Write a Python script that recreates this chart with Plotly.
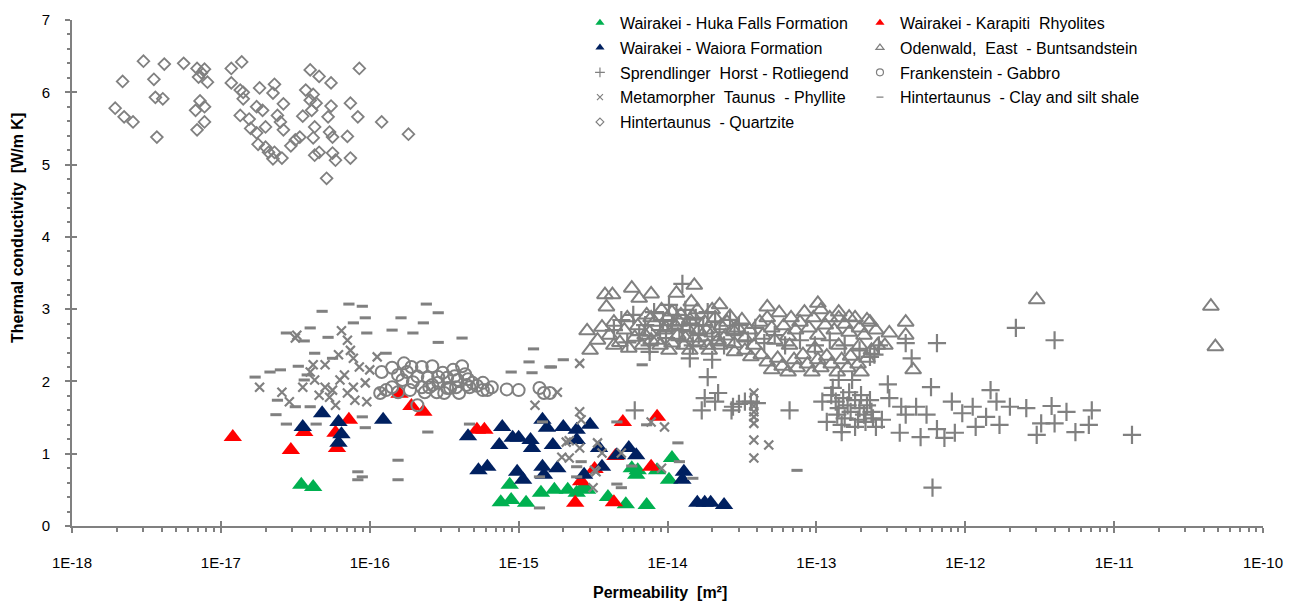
import numpy as np
import plotly.graph_objects as go

# ---------------- data (log10 permeability [m2], thermal conductivity [W/m K]) ----------------
huka_logk = [-16.46, -16.38, -15.12, -15.05, -14.95, -15.06, -14.85, -14.76, -14.67, -14.61, -14.54,
             -14.40, -14.28, -14.14, -14.24, -14.20, -14.21, -13.97, -13.99, -14.57, -14.07]
huka_tc = [0.57, 0.54, 0.33, 0.36, 0.32, 0.57, 0.46, 0.50, 0.50, 0.46, 0.50,
           0.40, 0.30, 0.29, 0.80, 0.77, 0.71, 0.94, 0.64, 0.53, 0.77]

karapiti_logk = [-16.92, -16.53, -16.44, -16.23, -16.22, -16.14, -15.80, -15.72, -15.64, -15.28,
                 -15.23, -14.62, -14.58, -14.49, -14.35, -14.36, -14.30, -14.11, -14.07]
karapiti_tc = [1.23, 1.05, 1.30, 1.29, 1.08, 1.47, 1.83, 1.66, 1.58, 1.33,
               1.33, 0.32, 0.62, 0.79, 0.97, 0.33, 1.44, 0.82, 1.51]

waiora_logk = [-16.45, -16.32, -16.21, -16.19, -16.21, -15.91, -15.34, -15.27, -15.21, -15.13,
               -15.11, -15.04, -15.00, -15.01, -14.97, -14.92, -14.91, -14.84, -14.81, -14.84,
               -14.83, -14.77, -14.74, -14.70, -14.61, -14.61, -14.52, -14.56, -14.46, -14.44,
               -14.34, -14.26, -14.21, -13.89, -13.90, -13.80, -13.75, -13.71, -13.62]
waiora_tc = [1.37, 1.56, 1.44, 1.27, 1.15, 1.47, 1.24, 0.77, 0.82, 1.12,
             1.37, 1.22, 1.22, 0.75, 0.64, 1.19, 1.08, 1.47, 1.36, 0.82,
             0.71, 1.12, 0.80, 1.37, 1.33, 1.19, 1.40, 0.71, 1.08, 0.82,
             0.98, 1.08, 0.98, 0.75, 0.64, 0.32, 0.32, 0.32, 0.29]

odenwald_logk = [
    -14.47, -14.44, -14.39, -14.36, -14.32, -14.29, -14.27, -14.22, -14.20, -14.17,
    -14.14, -14.12, -14.09, -14.07, -14.04, -14.02, -14.00, -13.97, -13.95, -13.93,
    -13.91, -13.89, -13.87, -13.85, -13.82, -13.80, -13.79, -13.75, -13.73, -13.70,
    -13.68, -13.66, -13.64, -13.61, -13.58, -13.55, -13.53, -13.50, -13.48, -13.45,
    -13.42, -13.38, -13.36, -13.33, -13.30, -13.28, -13.25, -13.22, -13.19, -13.17,
    -13.14, -13.11, -13.08, -13.05, -13.02, -12.99, -12.97, -12.94, -12.91, -12.88,
    -12.85, -12.81, -12.78, -12.74, -12.71, -12.68, -12.64, -12.60,
    -13.37, -13.33, -13.30, -13.26, -13.23, -13.19, -13.15, -13.13, -13.09, -13.06,
    -13.03, -12.99, -12.97, -12.93, -12.90, -12.86, -12.83, -12.79, -12.77, -12.72,
    -12.70, -12.66, -12.63, -12.59, -13.48, -13.44, -13.55, -13.18, -13.01, -12.85, -12.71,
    -14.54, -14.52, -14.42, -14.37, -14.41, -14.24, -14.19, -14.11, -13.94, -13.82,
    -13.84, -13.65, -13.33, -12.99, -12.40, -12.40, -12.51, -12.54, -12.35, -12.66,
    -12.78, -12.85, -11.52, -10.35, -10.32,
    -14.15, -14.11, -14.05, -14.01, -13.97, -13.92, -13.88, -13.83, -13.79, -13.74,
    -13.70, -13.65, -13.60, -13.56, -14.11, -13.99, -13.85, -13.72, -14.26, -14.36]
odenwald_tc = [
    2.57, 2.75, 2.64, 2.82, 2.54, 2.71, 2.88, 2.61, 2.77, 2.50,
    2.92, 2.68, 2.82, 2.57, 2.99, 2.71, 2.88, 2.53, 2.78, 2.64,
    2.92, 2.50, 2.74, 2.85, 2.60, 2.99, 2.71, 2.82, 2.50, 2.67,
    2.88, 2.57, 2.77, 2.63, 2.90, 2.52, 2.74, 2.85, 2.60, 2.71,
    2.50, 2.82, 2.64, 2.88, 2.74, 2.57, 2.95, 2.77, 2.63, 2.88,
    2.71, 2.82, 2.96, 2.74, 2.88, 2.64, 2.99, 2.78, 2.88, 2.71,
    2.96, 2.79, 2.68, 2.88, 2.74, 2.64, 2.82, 2.71,
    2.37, 2.27, 2.16, 2.32, 2.21, 2.13, 2.30, 2.19, 2.37, 2.24,
    2.13, 2.30, 2.19, 2.35, 2.24, 2.13, 2.30, 2.19, 2.35, 2.24,
    2.13, 2.32, 2.43, 2.50, 2.43, 2.34, 2.41, 2.50, 2.46, 2.50, 2.50,
    2.70, 2.43, 3.20, 3.20, 3.03, 3.29, 3.15, 3.21, 3.22, 3.33,
    3.10, 3.06, 3.03, 3.08, 2.82, 2.64, 2.67, 2.50, 2.16, 2.85,
    2.89, 2.88, 3.13, 3.04, 2.48,
    2.64, 2.88, 2.50, 2.74, 2.96, 2.82, 2.60, 2.90, 2.53, 2.71,
    2.99, 2.50, 2.82, 2.71, 2.57, 2.43, 2.43, 2.43, 2.46, 2.50]

sprend_logk = [
    -11.66, -11.40, -12.19, -12.36, -12.40, -12.23, -12.52, -12.76, -12.85, -10.88,
    -11.15, -11.17, -11.26, -11.52, -11.42, -11.32, -11.40, -11.49, -11.59, -11.70,
    -11.83, -11.79, -11.77, -11.86, -11.95, -12.02, -12.09, -11.93, -12.07, -12.14,
    -12.19, -12.26, -12.30, -12.33, -12.43, -12.44, -12.40, -12.51, -12.56, -12.60,
    -12.64, -12.83, -12.93, -12.74,
    -12.90, -12.87, -12.85, -12.82, -12.79, -12.77, -12.74, -12.71, -12.68, -12.66,
    -12.63, -12.86, -12.81, -12.72, -12.89, -12.78, -12.70, -12.83, -12.67, -12.62,
    -12.22, -13.18, -13.44, -13.52, -13.57, -13.66, -13.73, -13.75, -13.77, -13.68,
    -14.22, -12.64, -12.96, -13.56, -13.48, -13.40, -13.90, -13.70, -13.85, -14.12,
    -14.36, -14.31, -14.27, -14.23, -14.19, -14.15, -14.12, -14.09, -14.05, -14.03,
    -14.01, -13.99, -13.97, -13.94, -13.92, -13.90, -13.88, -13.85, -13.83, -13.81,
    -13.79, -13.76, -13.73, -13.70, -13.68, -13.65, -13.62, -13.58, -13.55, -13.52,
    -13.46, -13.41, -13.35, -13.28, -13.21, -13.11, -13.01, -12.91, -12.81, -12.71,
    -12.61, -12.58]
sprend_tc = [
    2.74, 2.57, 2.53, 2.32, 2.53, 1.92, 1.96, 2.02, 2.02, 1.26,
    1.60, 1.40, 1.30, 1.26, 1.66, 1.58, 1.42, 1.42, 1.63, 1.65,
    1.88, 1.72, 1.40, 1.51, 1.65, 1.56, 1.72, 1.37, 1.29, 1.22,
    1.34, 1.54, 1.23, 1.65, 1.65, 1.29, 1.54, 1.77, 1.47, 1.37,
    1.74, 1.30, 1.44, 1.37,
    1.81, 1.72, 1.63, 1.77, 1.67, 1.58, 1.74, 1.63, 1.54, 1.67,
    1.58, 1.54, 1.49, 1.47, 1.91, 1.85, 1.81, 1.40, 1.44, 1.49,
    0.53, 1.60, 1.72, 1.69, 1.60, 1.84, 2.06, 1.77, 1.60, 1.72,
    1.60, 2.34, 1.72, 1.65, 1.72, 1.70, 3.35, 2.30, 2.32, 2.41,
    2.71, 2.85, 2.54, 2.92, 2.64, 2.78, 2.50, 2.96, 2.71, 2.85,
    2.60, 3.06, 2.78, 2.92, 2.57, 2.71, 2.99, 2.78, 2.50, 2.88,
    2.64, 2.78, 2.96, 2.57, 2.82, 2.68, 2.50, 2.85, 2.64, 2.78,
    2.57, 2.74, 2.53, 2.64, 2.50, 2.57, 2.50, 2.57, 2.50, 2.43,
    2.37, 2.50]

franken_logk = [
    -15.92, -15.85, -15.77, -15.72, -15.65, -15.58, -15.51, -15.44, -15.38, -15.85,
    -15.78, -15.71, -15.65, -15.60, -15.54, -15.48, -15.42, -15.35, -15.31, -15.24,
    -15.24, -15.18, -15.08, -15.00, -14.86, -14.83, -15.68, -15.40, -15.55, -15.93,
    -15.89, -15.58, -15.46, -15.33, -14.79,
    -15.81, -15.75, -15.68, -15.61, -15.54, -15.48, -15.41, -15.34, -15.28, -15.21,
    -15.81, -15.73, -15.63, -15.50, -15.43, -15.36]
franken_tc = [
    2.13, 2.19, 2.25, 2.20, 2.20, 2.21, 2.12, 2.16, 2.21, 1.92,
    2.02, 1.99, 1.92, 1.92, 1.98, 1.91, 1.92, 1.95, 1.98, 1.98,
    1.88, 1.92, 1.89, 1.88, 1.91, 1.84, 1.67, 1.84, 1.85, 1.84,
    1.88, 1.95, 1.91, 1.92, 1.84,
    2.09, 2.13, 2.07, 2.05, 2.06, 2.05, 2.02, 2.03, 1.94, 1.88,
    1.85, 1.88, 1.85, 1.84, 2.07, 2.10]

phyllite_logk = [
    -16.74, -16.59, -16.49, -16.50, -16.38, -16.37, -16.45, -16.19, -16.15, -16.13,
    -16.21, -16.11, -16.07, -15.95, -16.30, -16.25, -16.20, -16.27, -16.23, -16.15,
    -16.11, -16.03, -16.02, -15.92, -16.34, -16.17, -16.40, -16.10, -16.54, -16.00, -16.30,
    -14.59, -14.89, -14.74, -14.59, -14.58, -14.68, -14.71, -14.59, -14.47, -14.44,
    -14.31, -14.50, -14.48, -14.66, -14.66, -14.49, -14.11, -14.02, -14.04,
    -13.42, -13.42, -13.42, -13.42, -13.42, -13.42, -13.42, -13.32]
phyllite_tc = [
    1.92, 1.85, 2.64, 2.60, 2.23, 2.02, 1.92, 2.70, 2.57, 2.43,
    2.37, 2.32, 2.20, 2.34, 1.92, 1.88, 2.02, 1.78, 1.67, 1.84,
    1.92, 1.98, 1.72, 1.85, 1.81, 2.09, 2.13, 1.74, 1.72, 2.16, 2.23,
    2.25, 1.67, 1.85, 1.58, 1.47, 1.16, 0.95, 1.08, 1.15, 1.01,
    1.01, 0.53, 0.75, 1.18, 0.94, 0.77, 1.44, 1.37, 0.80,
    1.84, 1.66, 1.58, 1.51, 1.42, 1.19, 0.94, 1.12]

shale_logk = [
    -16.14, -16.05, -16.32, -16.11, -16.03, -16.40, -16.28, -16.56, -16.44, -16.02,
    -16.37, -16.25, -16.48, -16.67, -16.60, -16.77, -16.42, -16.44, -16.62, -16.50,
    -16.40, -16.63, -16.56, -16.36, -16.05, -16.03, -15.85, -15.79, -15.71, -15.64,
    -15.62, -15.54, -15.89, -15.61, -15.81, -16.08, -16.05, -15.54, -15.38, -14.90,
    -14.93, -14.70, -14.79, -15.05, -14.91, -15.81, -16.08, -15.33, -14.86, -14.34,
    -14.31, -14.34, -14.84, -14.61, -14.61, -14.14, -13.93, -13.92, -13.83, -14.58,
    -14.86, -14.24, -14.17, -13.13, -14.78]
shale_tc = [
    3.07, 3.04, 2.97, 2.81, 2.88, 2.74, 2.61, 2.67, 2.56, 2.67,
    2.39, 2.32, 2.21, 2.13, 2.16, 2.06, 2.09, 2.02, 1.74, 1.65,
    1.65, 1.54, 1.41, 1.41, 1.51, 1.36, 2.71, 2.88, 2.67, 2.81,
    3.07, 2.95, 2.39, 1.30, 0.91, 0.75, 0.68, 2.54, 2.60, 2.45,
    2.27, 2.30, 2.20, 2.13, 2.12, 0.64, 0.64, 1.41, 0.25, 0.58,
    0.53, 1.44, 1.44, 0.82, 0.68, 1.40, 1.15, 0.89, 0.66, 0.89,
    0.68, 0.83, 2.23, 0.77, 2.20]

quartzite_logk = [
    -17.52, -17.66, -17.71, -17.65, -17.59, -17.45, -17.38, -17.44, -17.39, -17.43,
    -17.25, -17.16, -17.11, -17.15, -17.13, -17.09, -17.14, -17.17, -17.11, -17.11,
    -17.16, -16.93, -16.86, -16.93, -16.87, -16.85, -16.85, -16.87, -16.81, -16.80,
    -16.76, -16.74, -16.72, -16.70, -16.76, -16.75, -16.70, -16.68, -16.65, -16.65,
    -16.64, -16.62, -16.60, -16.58, -16.64, -16.59, -16.58, -16.53, -16.50, -16.47,
    -16.45, -16.40, -16.34, -16.43, -16.40, -16.38, -16.39, -16.36, -16.37, -16.38,
    -16.37, -16.34, -16.29, -16.28, -16.26, -16.26, -16.27, -16.25, -16.25, -16.23,
    -16.15, -16.13, -16.13, -16.08, -16.07, -15.92, -15.74]
quartzite_tc = [
    6.43, 6.15, 5.78, 5.66, 5.59, 6.18, 6.39, 5.93, 5.91, 5.38,
    6.40, 6.33, 6.32, 6.21, 6.27, 6.14, 5.88, 5.75, 5.80, 5.59,
    5.48, 6.33, 6.42, 6.13, 6.03, 6.00, 5.91, 5.68, 5.63, 5.50,
    5.80, 6.06, 5.75, 5.52, 5.44, 5.28, 5.24, 5.17, 5.08, 5.99,
    6.11, 5.68, 5.59, 5.48, 5.17, 5.09, 5.84, 5.26, 5.34, 5.38,
    5.67, 6.31, 6.22, 6.03, 5.89, 5.97, 5.75, 5.85, 5.52, 5.37,
    5.13, 5.17, 4.81, 5.66, 6.13, 5.81, 5.45, 5.38, 5.16, 5.06,
    5.39, 5.85, 5.09, 5.66, 6.33, 5.59, 5.42]

decade_exponents = [-18, -17, -16, -15, -14, -13, -12, -11, -10]
x_tick_labels = ["1E-18", "1E-17", "1E-16", "1E-15", "1E-14", "1E-13", "1E-12", "1E-11", "1E-10"]
y_tick_values = [0, 1, 2, 3, 4, 5, 6, 7]

series_names = {
    "huka": "Wairakei - Huka Falls Formation",
    "karapiti": "Wairakei - Karapiti\u00a0 Rhyolites",
    "waiora": "Wairakei - Waiora Formation",
    "odenwald": "Odenwald,\u00a0 East\u00a0 - Buntsandstein",
    "sprend": "Sprendlinger\u00a0 Horst - Rotliegend",
    "franken": "Frankenstein - Gabbro",
    "phyllite": "Metamorpher\u00a0 Taunus\u00a0 - Phyllite",
    "shale": "Hintertaunus\u00a0 - Clay and silt shale",
    "quartzite": "Hintertaunus\u00a0 - Quartzite",
}

# ---------------- styles ----------------
GREY = "#808080"
GREEN = "#00B050"
RED = "#FF0000"
NAVY = "#002060"
FONT = "Liberation Sans, Arial, sans-serif"

styles = {
    "huka": dict(symbol="triangle-up", size=16, color=GREEN, lw=0, lsize=8),
    "karapiti": dict(symbol="triangle-up", size=16, color=RED, lw=0, lsize=8),
    "waiora": dict(symbol="triangle-up", size=16, color=NAVY, lw=0, lsize=8),
    "odenwald": dict(symbol="triangle-up-open", size=14, color=GREY, lw=2, lsize=7),
    "sprend": dict(symbol="cross-thin", size=13, color=GREY, lw=2.2, lsize=7),
    "franken": dict(symbol="circle-open", size=12, color=GREY, lw=2, lsize=7),
    "phyllite": dict(symbol="x-thin", size=9, color=GREY, lw=2.2, lsize=6),
    "shale": dict(symbol="line-ew", size=8, color=GREY, lw=3, lsize=5),
    "quartzite": dict(symbol="diamond-open", size=9, color=GREY, lw=1.8, lsize=6),
}

data = {
    "huka": (huka_logk, huka_tc),
    "karapiti": (karapiti_logk, karapiti_tc),
    "waiora": (waiora_logk, waiora_tc),
    "odenwald": (odenwald_logk, odenwald_tc),
    "sprend": (sprend_logk, sprend_tc),
    "franken": (franken_logk, franken_tc),
    "phyllite": (phyllite_logk, phyllite_tc),
    "shale": (shale_logk, shale_tc),
    "quartzite": (quartzite_logk, quartzite_tc),
}

fig = go.Figure()

# drawing order (bottom to top)
draw_order = ["huka", "karapiti", "waiora", "quartzite", "odenwald", "sprend", "franken", "phyllite", "shale"]
for key in draw_order:
    lk, tc = data[key]
    st = styles[key]
    fig.add_trace(go.Scatter(
        x=10.0 ** np.array(lk), y=tc, mode="markers", showlegend=False, hoverinfo="skip",
        marker=dict(symbol=st["symbol"], size=st["size"], color=st["color"],
                    line=dict(width=st["lw"], color=st["color"]))))

# empty trace so the overlay axes (inner halves of major ticks) get drawn
fig.add_trace(go.Scatter(x=[None], y=[None], xaxis="x2", yaxis="y2", mode="markers",
                         showlegend=False, hoverinfo="skip"))

# legend entries (two columns)
legend_cols = {
    "legend": ["huka", "waiora", "sprend", "phyllite", "quartzite"],
    "legend2": ["karapiti", "odenwald", "franken", "shale"],
}
for leg, keys in legend_cols.items():
    for key in keys:
        st = styles[key]
        fig.add_trace(go.Scatter(
            x=[None], y=[None], mode="markers", name=series_names[key], legend=leg,
            legendgroup=key, showlegend=True,
            marker=dict(symbol=st["symbol"], size=st["lsize"], color=st["color"],
                        line=dict(width=(1.2 if st["lw"] else 0), color=st["color"]))))

major_vals = [10.0 ** e for e in decade_exponents]
minor_vals = [m * 10.0 ** e for e in decade_exponents[:-1] for m in range(2, 10)]

fig.update_layout(
    width=1295, height=602,
    margin=dict(l=72, r=32, t=20, b=76, autoexpand=False),
    paper_bgcolor="white", plot_bgcolor="white",
    font=dict(family=FONT, size=15, color="black"),
    xaxis=dict(
        type="log", range=[-18, -10], showgrid=False, zeroline=False,
        showline=True, linecolor=GREY, linewidth=2,
        tickmode="array", tickvals=major_vals, ticktext=x_tick_labels,
        ticks="outside", ticklen=5, tickwidth=2, tickcolor=GREY,
        tickfont=dict(family=FONT, size=15, color="black"), ticklabelstandoff=17,
        minor=dict(tickmode="array", tickvals=minor_vals, ticks="outside", ticklen=4,
                   tickwidth=1.5, tickcolor=GREY, showgrid=False),
    ),
    yaxis=dict(
        range=[0, 7], showgrid=False, zeroline=False,
        showline=True, linecolor=GREY, linewidth=2,
        tickmode="array", tickvals=y_tick_values,
        ticks="outside", ticklen=5, tickwidth=2, tickcolor=GREY,
        tickfont=dict(family=FONT, size=15, color="black"), ticklabelstandoff=12,
        minor=dict(dtick=0.2, ticks="outside", ticklen=3, tickwidth=1.5, tickcolor=GREY, showgrid=False),
    ),
    # inner halves of the major ticks (ticks cross the axis lines)
    xaxis2=dict(
        type="log", range=[-18, -10], overlaying="x", anchor="y2", side="bottom",
        showgrid=False, zeroline=False, showline=False, showticklabels=False,
        tickmode="array", tickvals=major_vals, ticks="inside", ticklen=5, tickwidth=2, tickcolor=GREY,
    ),
    yaxis2=dict(
        range=[0, 7], overlaying="y", anchor="x2", side="left",
        showgrid=False, zeroline=False, showline=False, showticklabels=False,
        tickmode="array", tickvals=y_tick_values, ticks="inside", ticklen=5, tickwidth=2, tickcolor=GREY,
    ),
    legend=dict(x=0.4265, y=1.028, xanchor="left", yanchor="top", bgcolor="rgba(0,0,0,0)",
                font=dict(family=FONT, size=16, color="black"), tracegroupgap=1, itemclick=False),
    legend2=dict(x=0.6616, y=1.028, xanchor="left", yanchor="top", bgcolor="rgba(0,0,0,0)",
                 font=dict(family=FONT, size=16, color="black"), tracegroupgap=1, itemclick=False),
    annotations=[
        dict(text="<b>Permeability\u00a0 [m²]</b>", xref="paper", yref="paper",
             x=0.4937, y=-0.1324, xanchor="center", yanchor="middle", showarrow=False,
             font=dict(family=FONT, size=16, color="black")),
        dict(text="<b>Thermal conductivity\u00a0 [W/m K]</b>", xref="paper", yref="paper",
             x=-0.0453, y=0.589, xanchor="center", yanchor="middle", showarrow=False, textangle=-90,
             font=dict(family=FONT, size=16, color="black")),
    ],
)

fig.write_html(
    "out.html",
    config={"displayModeBar": False},
    post_script="document.body.style.margin='0';document.body.style.padding='0';document.body.style.overflow='hidden';",
)
